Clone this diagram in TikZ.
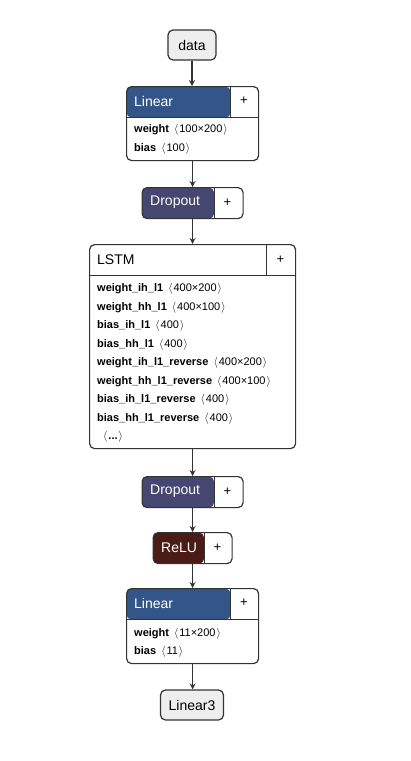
\documentclass[tikz,border=0pt]{standalone}
\usepackage{fontspec}
\setmainfont{Liberation Sans}
\usetikzlibrary{arrows.meta}
\definecolor{layerblue}{RGB}{51,85,136}
\definecolor{dropblue}{RGB}{69,71,112}
\definecolor{actbrown}{RGB}{75,27,22}
\definecolor{edgegray}{RGB}{51,51,51}
\definecolor{inputgray}{RGB}{238,238,238}
\newcommand{\shp}[1]{\hspace{2pt}$\langle$\hspace{1pt}#1\hspace{1pt}$\rangle$}

\begin{document}
\begin{tikzpicture}[x=1pt, y=-1pt,
  plain/.style={rectangle, rounded corners=5pt, draw=edgegray, line width=1.2pt, fill=inputgray, minimum height=30pt, inner sep=0pt, font=\fontsize{14}{16}\selectfont},
  opblock/.style n args={3}{rectangle, rounded corners=5pt, draw=edgegray, line width=1.2pt, fill=white, inner sep=0pt, anchor=north west, minimum width=#1, minimum height=31pt,
    path picture={\fill[#3] (path picture bounding box.north west) rectangle ([xshift=#2]path picture bounding box.south west);
      \draw[edgegray, line width=1.2pt] ([xshift=#2]path picture bounding box.north west) -- ([xshift=#2]path picture bounding box.south west);}},
  hblock/.style n args={4}{rectangle, rounded corners=5pt, draw=edgegray, line width=1.2pt, fill=white, inner sep=0pt, anchor=north west, minimum width=#1, minimum height=#2,
    path picture={\fill[#4] (path picture bounding box.north west) rectangle ([xshift=#3, yshift=-31pt]path picture bounding box.north west);
      \draw[edgegray, line width=1.2pt] ([xshift=#3]path picture bounding box.north west) -- ([xshift=#3, yshift=-31pt]path picture bounding box.north west);
      \draw[edgegray, line width=1.2pt] ([yshift=-31pt]path picture bounding box.north west) -- ([yshift=-31pt]path picture bounding box.north east);}},
  htext/.style={anchor=west, inner sep=0pt, text=white, font=\fontsize{14}{16}\selectfont},
  ptext/.style={inner sep=0pt, font=\fontsize{13}{15}\selectfont},
  attr/.style={anchor=west, inner sep=0pt, text height=8pt, text depth=2.5pt, font=\fontsize{11}{13}\selectfont},
  arrow/.style={line width=1.2pt, draw=edgegray, -{Stealth[length=6pt, width=6pt]}}]

\useasboundingbox (0,0) rectangle (411,761);

% Input
\node[plain, minimum width=48pt] (data) at (192,45) {data};

% Linear 1
\node[hblock={132pt}{74pt}{104pt}{layerblue}] (lin1) at (126,86) {};
\node[htext] (lin1-t) at (134,101) {Linear};
\node[ptext] (lin1-p) at (244,101) {+};
\node[attr] (lin1-a1) at (134,130) {\textbf{weight}~\shp{100×200}};
\node[attr] (lin1-a2) at (134,149) {\textbf{bias}~\shp{100}};

% Dropout 1
\node[opblock={101pt}{72pt}{dropblue}] (drop1) at (141.5,187) {};
\node[htext] (drop1-t) at (150,202.5) {Dropout};
\node[ptext] (drop1-p) at (227.5,202.5) {+};

% LSTM
\node[hblock={206pt}{204pt}{177pt}{white}] (lstm) at (89,244) {};
\node[htext, text=black] (lstm-t) at (97,259.5) {LSTM};
\node[ptext] (lstm-p) at (280.5,259.5) {+};
\foreach \nm/\sh [count=\i] in {weight\_ih\_l1/400×200, weight\_hh\_l1/400×100, bias\_ih\_l1/400, bias\_hh\_l1/400,
    weight\_ih\_l1\_reverse/400×200, weight\_hh\_l1\_reverse/400×100, bias\_ih\_l1\_reverse/400, bias\_hh\_l1\_reverse/400}
  \node[attr] (lstm-a\i) at (97,{270.5+18.5*\i}) {\textbf{\nm}~\shp{\sh}};
\node[attr] (lstm-more) at (101,437) {\shp{\textbf{...}}};

% Dropout 2
\node[opblock={101pt}{72pt}{dropblue}] (drop2) at (141.5,476) {};
\node[htext] (drop2-t) at (150,491.5) {Dropout};
\node[ptext] (drop2-p) at (227.5,491.5) {+};

% ReLU
\node[opblock={79pt}{51pt}{actbrown}] (relu) at (152.5,532) {};
\node[htext] (relu-t) at (161,547.5) {ReLU};
\node[ptext] (relu-p) at (217.5,547.5) {+};

% Linear 2
\node[hblock={132pt}{75pt}{104pt}{layerblue}] (lin2) at (126,588) {};
\node[htext] (lin2-t) at (134,603) {Linear};
\node[ptext] (lin2-p) at (244,603) {+};
\node[attr] (lin2-a1) at (134,634) {\textbf{weight}~\shp{11×200}};
\node[attr] (lin2-a2) at (134,652) {\textbf{bias}~\shp{11}};

% Output
\node[plain, minimum width=63pt] (lin3) at (192,705) {Linear3};

% Arrows
\draw[arrow] (data.south) -- (data.south |- lin1.north);
\draw[arrow] (lin1.south) -- (lin1.south |- drop1.north);
\draw[arrow] (drop1.south) -- (drop1.south |- lstm.north);
\draw[arrow] (lstm.south) -- (lstm.south |- drop2.north);
\draw[arrow] (drop2.south) -- (drop2.south |- relu.north);
\draw[arrow] (relu.south) -- (relu.south |- lin2.north);
\draw[arrow] (lin2.south) -- (lin2.south |- lin3.north);

\end{tikzpicture}
\end{document}
